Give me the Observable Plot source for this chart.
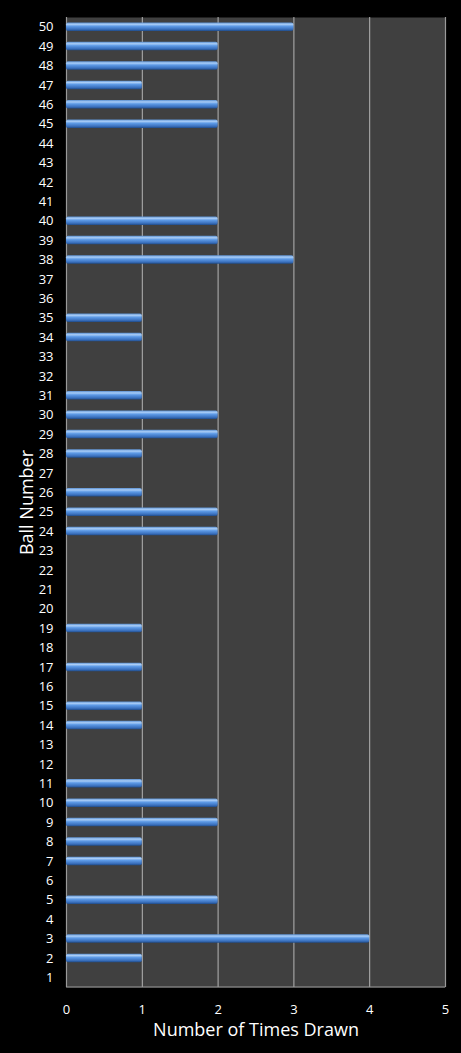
<!DOCTYPE html>
<html>
<head>
<meta charset="utf-8">
<script src="https://cdn.jsdelivr.net/npm/d3@7"></script>
<script src="https://cdn.jsdelivr.net/npm/@observablehq/plot@0.6"></script>
<style>
  html, body { margin: 0; padding: 0; background: #000; }
  #chart svg { display: block; }
</style>
</head>
<body>
<div id="chart"></div>
<script>
const balls = d3.range(50, 0, -1); // 50 at top ... 1 at bottom
const counts = {
  50: 3, 49: 2, 48: 2, 47: 1, 46: 2, 45: 2, 44: 0, 43: 0, 42: 0, 41: 0,
  40: 2, 39: 2, 38: 3, 37: 0, 36: 0, 35: 1, 34: 1, 33: 0, 32: 0, 31: 1,
  30: 2, 29: 2, 28: 1, 27: 0, 26: 1, 25: 2, 24: 2, 23: 0, 22: 0, 21: 0,
  20: 0, 19: 1, 18: 0, 17: 1, 16: 0, 15: 1, 14: 1, 13: 0, 12: 0, 11: 1,
  10: 2, 9: 2, 8: 1, 7: 1, 6: 0, 5: 2, 4: 0, 3: 4, 2: 1, 1: 0
};
const xTicks = [0, 1, 2, 3, 4, 5];
const xTitle = "Number of Times Drawn";
const yTitle = "Ball Number";

const data = balls.map(b => ({ball: b, count: counts[b]})).filter(d => d.count > 0);

const chart = Plot.plot({
  width: 461,
  height: 1053,
  marginTop: 17,
  marginBottom: 66,
  marginLeft: 66,
  marginRight: 16,
  style: {background: "#000", color: "#fff", fontFamily: "'Open Sans', sans-serif", fontSize: "13px"},
  x: {domain: [0, 5], ticks: xTicks, tickFormat: "d"},
  y: {domain: balls, paddingInner: 0.56, paddingOuter: 0.28, round: false},
  marks: [
    Plot.frame({fill: "#404040", stroke: null}),
    Plot.ruleX(xTicks.slice(1, -1), {stroke: "#b4b4b4", strokeWidth: 1}),
    Plot.ruleX([0, 5], {stroke: "#9a9a9a", strokeWidth: 1.2}),
    Plot.barX(data, {x: "count", y: "ball", fill: "#4a86d0", rx: 2}),
    Plot.axisY({tickSize: 0, tickPadding: 13, label: null, fontSize: 13, fill: "#fff"}),
    Plot.axisX({ticks: xTicks, tickFormat: "d", tickSize: 0, tickPadding: 17, label: null, fontSize: 13, fill: "#fff"}),
    Plot.text([xTitle], {text: d => d, frameAnchor: "bottom", lineAnchor: "middle", dy: 43, fontSize: 18, fill: "#fff"}),
    Plot.text([yTitle], {text: d => d, frameAnchor: "left", textAnchor: "middle", lineAnchor: "middle", dx: -39, rotate: -90, fontSize: 18, fill: "#fff"})
  ]
});

const svg = d3.select(chart);
const defs = svg.insert("defs", ":first-child");
const g = defs.append("linearGradient").attr("id", "barGrad")
  .attr("x1", 0).attr("y1", 0).attr("x2", 0).attr("y2", 1);
g.append("stop").attr("offset", "0%").attr("stop-color", "#5a8fd0");
g.append("stop").attr("offset", "22%").attr("stop-color", "#a9cdf7");
g.append("stop").attr("offset", "45%").attr("stop-color", "#5d9ae6");
g.append("stop").attr("offset", "80%").attr("stop-color", "#3a70bd");
g.append("stop").attr("offset", "100%").attr("stop-color", "#1f4b88");
svg.selectAll("g[aria-label='bar'] rect").attr("fill", "url(#barGrad)");

svg.append("line")
  .attr("x1", 66).attr("x2", 445).attr("y1", 987).attr("y2", 987)
  .attr("stroke", "#9a9a9a").attr("stroke-width", 1.2);

document.getElementById("chart").appendChild(chart);
</script>
</body>
</html>
